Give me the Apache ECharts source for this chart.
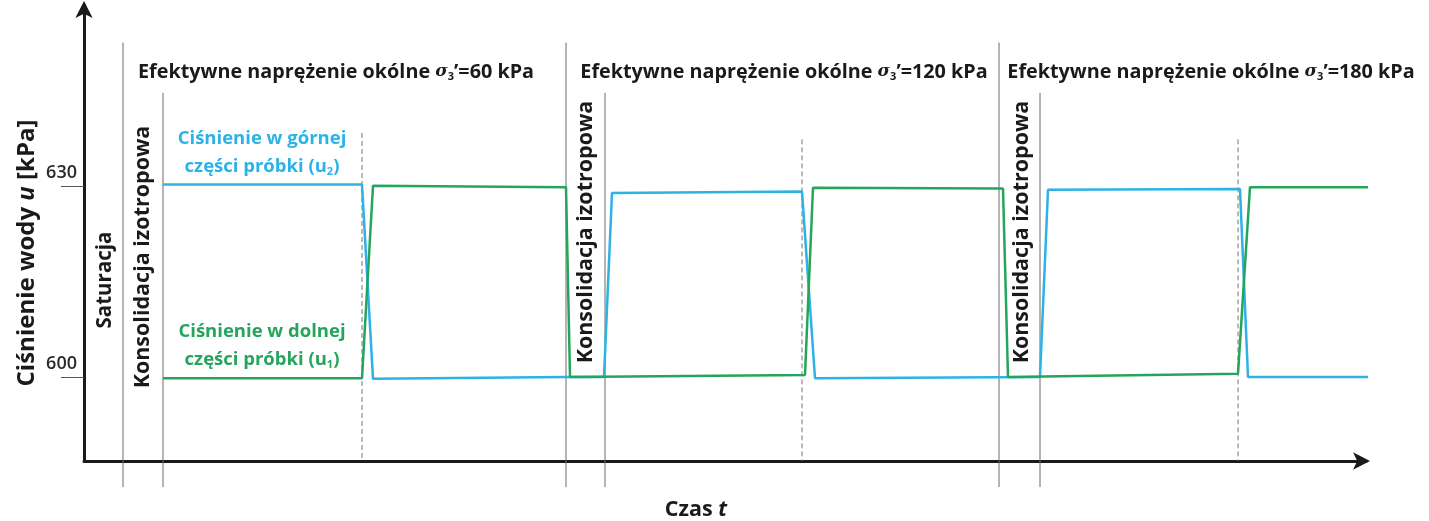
<!DOCTYPE html>
<html>
<head>
<meta charset="utf-8">
<script src="https://cdn.jsdelivr.net/npm/echarts@6/dist/echarts.min.js"></script>
<style>
html,body{margin:0;padding:0;background:#fff;}
#c{width:1429px;height:521px;}
</style>
</head>
<body>
<div id="c"></div>
<script>
// ---- data (time in arbitrary units, pressure in kPa) ----
const u2Time  = [79, 278, 289, 482, 520, 528, 718, 731, 956, 964, 1156, 1164, 1301];
const u2Value = [630.2, 630.2, 599.7, 600.0, 600.0, 628.9, 629.1, 599.8, 600.0, 629.4, 629.5, 600.0, 600.0];
const u1Time  = [79, 278, 289, 482, 486, 721, 729, 919, 924, 1154, 1166, 1301];
const u1Value = [599.8, 599.8, 630.0, 629.8, 600.0, 600.3, 629.7, 629.6, 600.0, 600.5, 629.8, 629.8];
const yTicks = [600, 630];
const stageBoundaryTimes = [39, 482, 915];   // thin solid separators
const stageStartTimes    = [79, 521, 956];   // end of consolidation
const switchTimes        = [278, 718, 1154]; // dashed: flow reversal
const sigma3 = ['60', '120', '180'];

const BLUE = '#2DB2E6', GREEN = '#25A55C';
const FONT = 'Open Sans';
const INK = '#1a1a1a';

const chart = echarts.init(document.getElementById('c'), null, {renderer: 'canvas'});

function pairs(t, v){ return t.map((x,i)=>[x, v[i]]); }

const vSeries = [];
stageBoundaryTimes.forEach(t => vSeries.push({
  type:'line', data:[[t,652.5],[t,582.7]], clip:false, symbol:'none', silent:true,
  lineStyle:{color:'#6a6a6a', width:1}, z:1
}));
stageStartTimes.forEach(t => vSeries.push({
  type:'line', data:[[t,644.6],[t,582.7]], clip:false, symbol:'none', silent:true,
  lineStyle:{color:'#6a6a6a', width:1}, z:1
}));
switchTimes.forEach((t,i) => vSeries.push({
  type:'line', data:[[t, i===0?638.3:637.3],[t,586.8]], clip:false, symbol:'none', silent:true,
  lineStyle:{color:'#777', width:1, type:[5,3]}, z:1
}));

const titleRich = {
  b:{fontFamily:FONT, fontWeight:'bold', fontSize:19.8, fill:INK},
  s:{fontFamily:'DejaVu Serif', fontStyle:'italic', fontWeight:'bold', fontSize:17, fill:INK},
  sub:{fontFamily:FONT, fontWeight:'bold', fontSize:11, fill:INK, padding:[9,0,0,0]}
};
function titleText(v){ return '{b|Efektywne naprężenie okólne }{s|σ}{sub|3}{b|’=' + v + ' kPa}'; }

const titleCenters = [336, 784, 1211];
const graphics = [];
sigma3.forEach((v,i) => graphics.push({
  type:'text', x:titleCenters[i], y:72, silent:true,
  style:{text:titleText(v), rich:titleRich, textAlign:'center', textVerticalAlign:'middle'}
}));

function vtext(txt, cx, cy, size){
  return {type:'text', x:cx, y:cy, rotation:Math.PI/2, silent:true,
    style:{text:txt, fontFamily:FONT, fontWeight:'bold', fontSize:size, fill:INK,
      textAlign:'center', textVerticalAlign:'middle'}};
}
graphics.push(vtext('Saturacja', 105, 280, 20.5));
graphics.push(vtext('Konsolidacja izotropowa', 143, 257, 21.5));
graphics.push(vtext('Konsolidacja izotropowa', 586, 232, 21.5));
graphics.push(vtext('Konsolidacja izotropowa', 1022, 232, 21.5));

// y-axis name
graphics.push({type:'text', x:27, y:253, rotation:Math.PI/2, silent:true,
  style:{text:'{a|Ciśnienie wody }{i|u}{a| [kPa]}', textAlign:'center', textVerticalAlign:'middle',
    rich:{a:{fontFamily:FONT, fontWeight:'bold', fontSize:24, fill:INK},
          i:{fontFamily:FONT, fontStyle:'italic', fontWeight:'bold', fontSize:24, fill:INK}}}});
// x-axis name
graphics.push({type:'text', x:696, y:510, silent:true,
  style:{text:'{a|Czas }{i|t}', textAlign:'center', textVerticalAlign:'middle',
    rich:{a:{fontFamily:FONT, fontWeight:'bold', fontSize:21.5, fill:INK},
          i:{fontFamily:FONT, fontStyle:'italic', fontWeight:'bold', fontSize:21.5, fill:INK}}}});

// curve labels
function curveLabel(l1, sub, cx, y1, y2, col){
  const rich = {a:{fontFamily:FONT, fontWeight:'bold', fontSize:18.5, fill:col},
                sub:{fontFamily:FONT, fontWeight:'bold', fontSize:11, fill:col, padding:[9,0,0,0]}};
  return [
    {type:'text', x:cx, y:y1, silent:true, style:{text:'{a|'+l1+'}', rich, textAlign:'center', textVerticalAlign:'middle'}},
    {type:'text', x:cx, y:y2, silent:true, style:{text:'{a|części próbki (u}{sub|'+sub+'}{a|)}', rich, textAlign:'center', textVerticalAlign:'middle'}}
  ];
}
graphics.push(...curveLabel('Ciśnienie w górnej', '2', 262, 139, 167, BLUE));
graphics.push(...curveLabel('Ciśnienie w dolnej', '1', 262, 332, 360, GREEN));

const option = {
  backgroundColor:'#fff',
  animation:false,
  grid:{left:84, right:63, top:5, bottom:60, containLabel:false},
  xAxis:{type:'value', min:0, max:1282,
    axisLine:{show:true, lineStyle:{color:INK, width:3}, symbol:['none','arrow'], symbolSize:[13,17], symbolOffset:[0,4]},
    axisTick:{show:false}, axisLabel:{show:false}, splitLine:{show:false}},
  yAxis:{type:'value', min:586.8, max:658.4,
    axisLine:{show:true, onZero:false, lineStyle:{color:INK, width:3}, symbol:['none','arrow'], symbolSize:[13,17], symbolOffset:[0,4]},
    axisTick:{show:true, inside:false, length:23, lineStyle:{color:'#555', width:1}, customValues:yTicks},
    axisLabel:{show:true, customValues:yTicks, margin:7, verticalAlign:'bottom', padding:[0,0,4,0],
      fontFamily:FONT, fontSize:18, fontWeight:600, color:'#2a2a2a'},
    splitLine:{show:false}},
  series:[
    ...vSeries,
    {name:'u2', type:'line', data:pairs(u2Time,u2Value), clip:false, symbol:'none', silent:true,
      lineStyle:{color:BLUE, width:2.5}, z:3},
    {name:'u1', type:'line', data:pairs(u1Time,u1Value), clip:false, symbol:'none', silent:true,
      lineStyle:{color:GREEN, width:2.5}, z:4}
  ],
  graphic:graphics
};
chart.setOption(option);
</script>
</body>
</html>
